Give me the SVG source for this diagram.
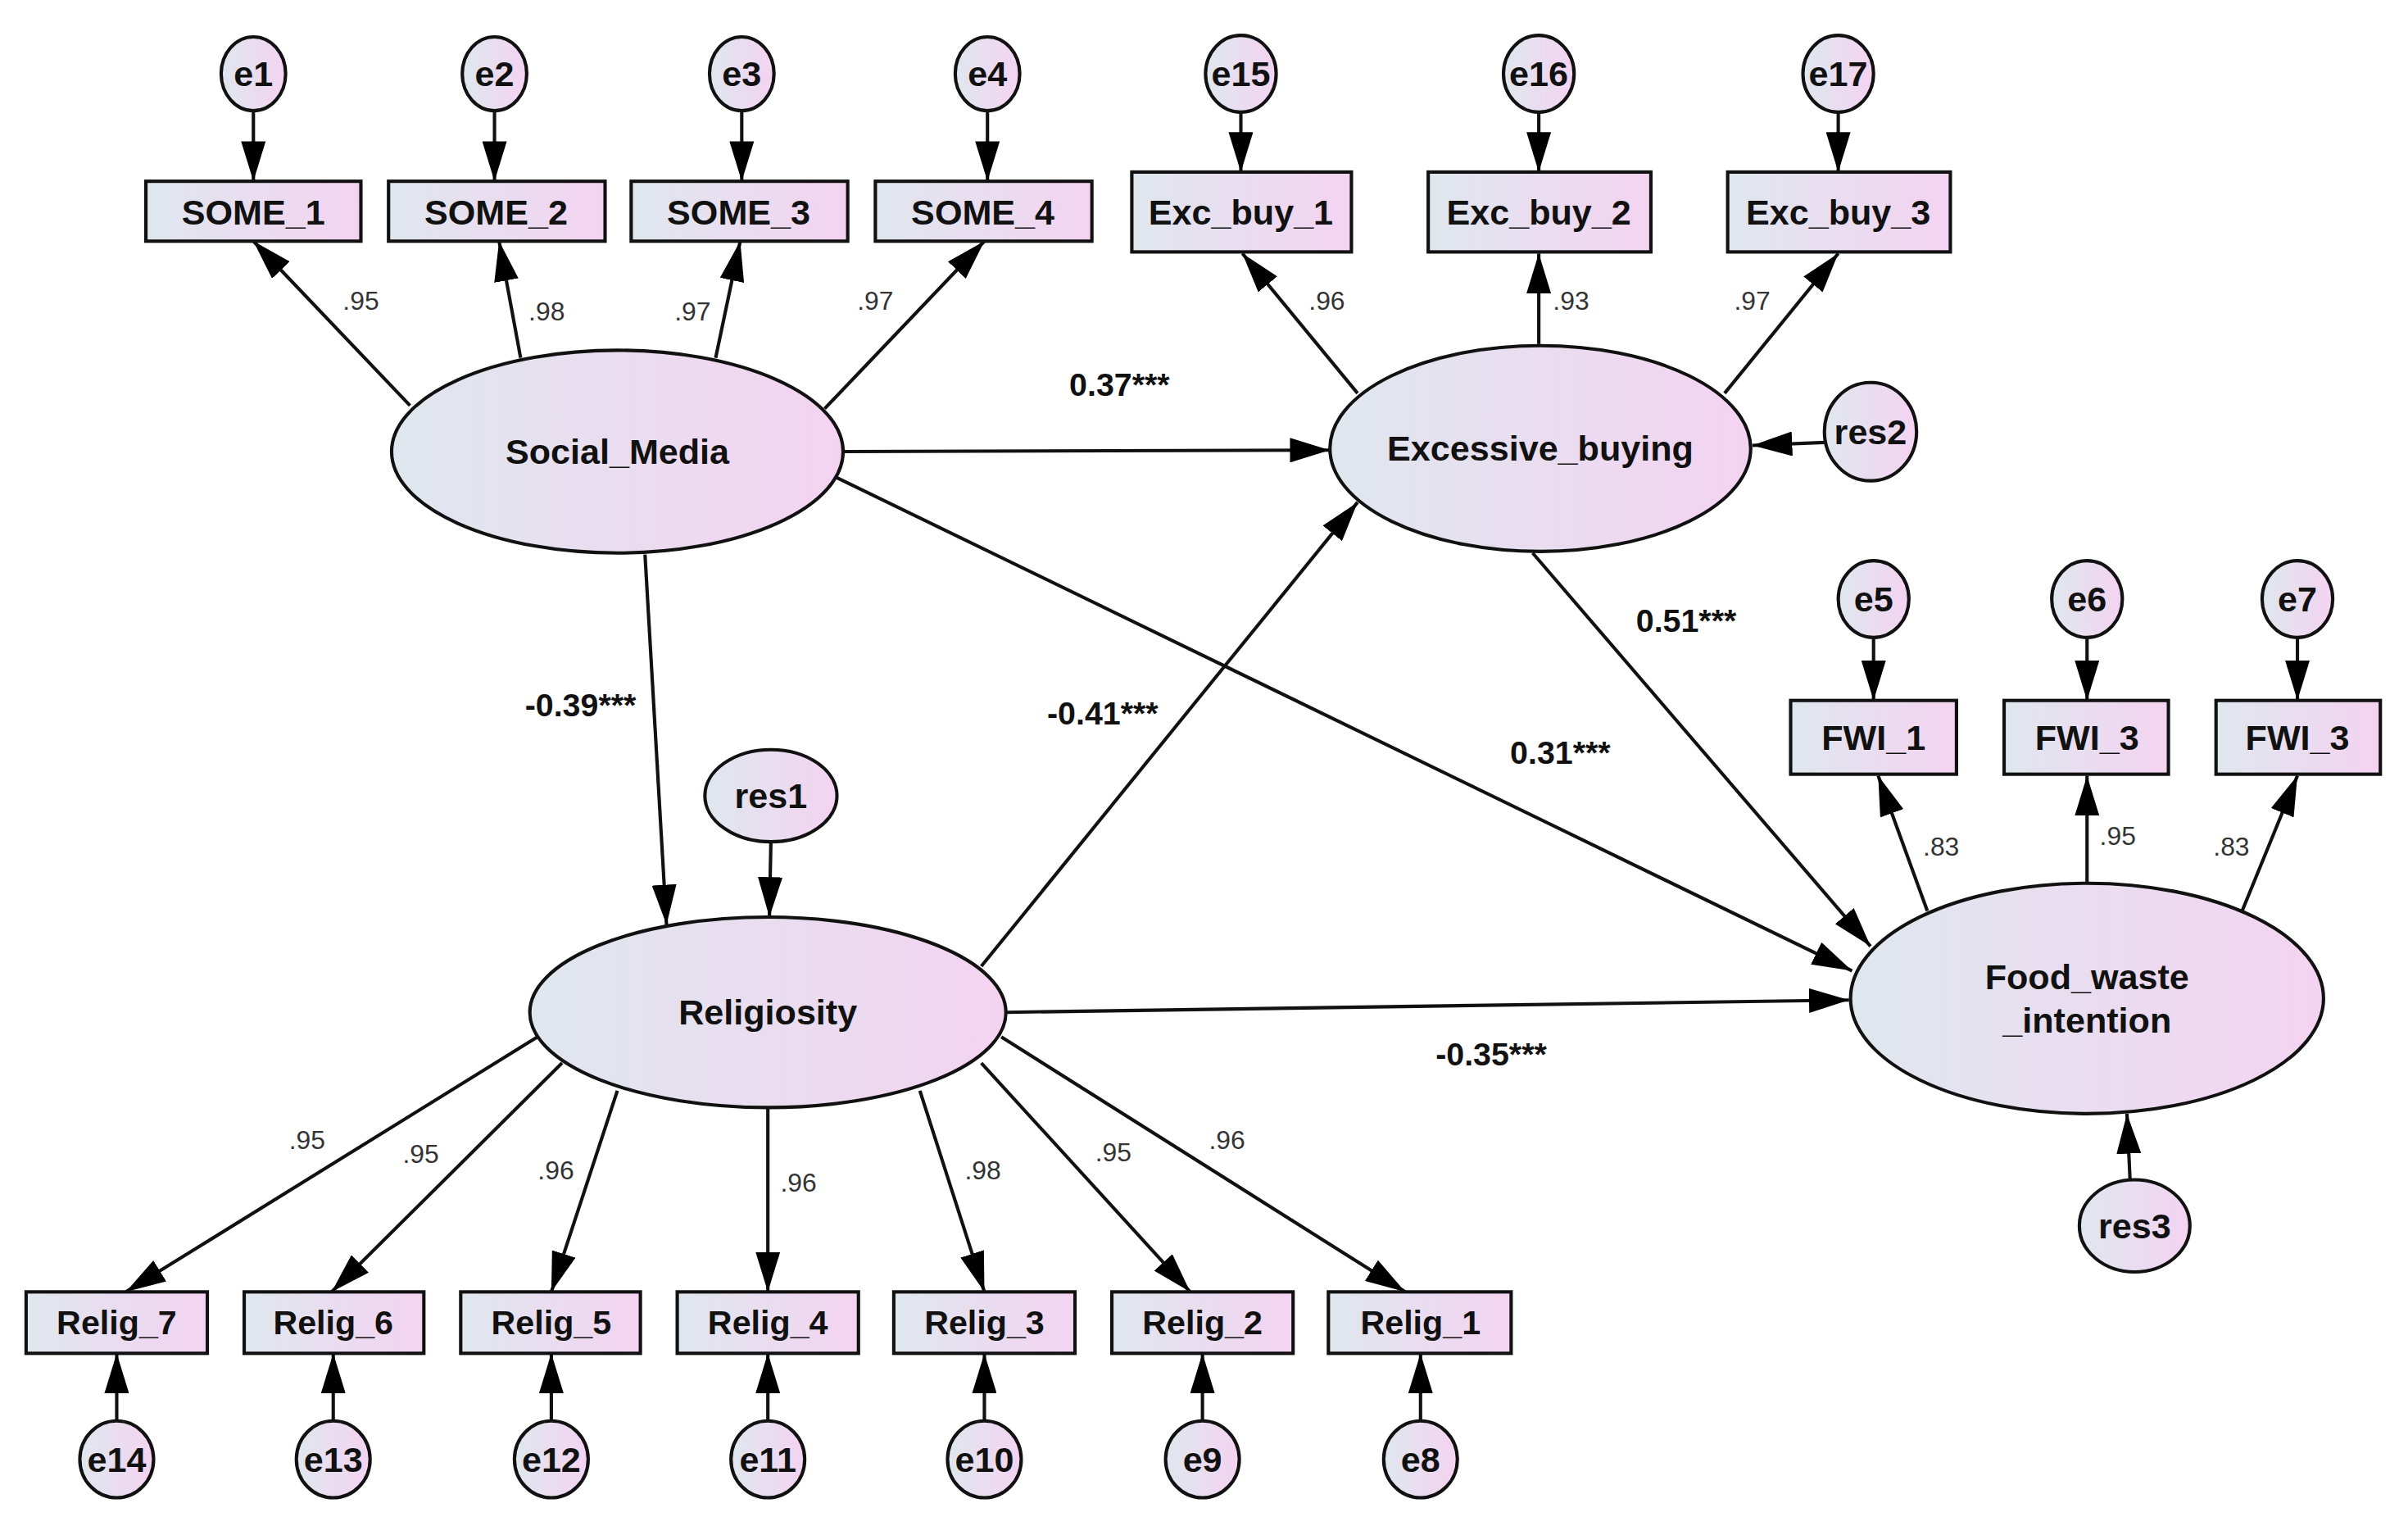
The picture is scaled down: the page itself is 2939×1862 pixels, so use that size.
<svg xmlns="http://www.w3.org/2000/svg" width="2939" height="1862" viewBox="0 0 2939 1862">
<defs>
<linearGradient id="g" x1="0" y1="0" x2="1" y2="0"><stop offset="0" stop-color="#dfe7ee"/><stop offset="1" stop-color="#f4d3f1"/></linearGradient>
<marker id="a" markerUnits="userSpaceOnUse" markerWidth="26" markerHeight="16" refX="26" refY="8" orient="auto"><path d="M0,0 L26,8 L0,16 z" fill="#000"/></marker>
<style>
.n{fill:url(#g);stroke:#111;stroke-width:2.2}
.t{font-family:"Liberation Sans",Arial,sans-serif;font-weight:bold;font-size:23px;fill:#111;text-anchor:middle;dominant-baseline:central}
.ts{font-family:"Liberation Sans",Arial,sans-serif;font-weight:bold;font-size:22px;fill:#111;text-anchor:middle;dominant-baseline:central}
.l{font-family:"Liberation Sans",Arial,sans-serif;font-size:17px;fill:#333;text-anchor:middle;dominant-baseline:central}
.p{font-family:"Liberation Sans",Arial,sans-serif;font-weight:bold;font-size:21px;fill:#111;text-anchor:middle;dominant-baseline:central}
.c line{stroke:#111;stroke-width:2.2;marker-end:url(#a)}
</style>
</defs>
<rect width="2939" height="1862" fill="#fff"/>
<g transform="scale(1.87436)">
<g class="c" id="connectors">
<line x1="165" y1="72" x2="165" y2="118"/><line x1="322" y1="72" x2="322" y2="118"/><line x1="483" y1="72" x2="483" y2="118"/><line x1="643" y1="72" x2="643" y2="118"/>
<line x1="267" y1="264" x2="165" y2="157"/><line x1="339" y1="233" x2="325" y2="157"/><line x1="466" y1="233" x2="482" y2="157"/><line x1="537" y1="266" x2="641" y2="157"/>
<line x1="808" y1="73" x2="808" y2="112"/><line x1="1002" y1="73" x2="1002" y2="112"/><line x1="1197" y1="73" x2="1197" y2="112"/>
<line x1="884" y1="256" x2="809" y2="165"/><line x1="1002" y1="224" x2="1002" y2="165"/><line x1="1123" y1="256" x2="1197" y2="165"/>
<line x1="1188" y1="288" x2="1141" y2="290"/>
<line x1="550" y1="294" x2="866" y2="293"/>
<line x1="639" y1="629" x2="884" y2="327"/>
<line x1="998" y1="360" x2="1218" y2="616"/>
<line x1="543" y1="310" x2="1206" y2="632"/>
<line x1="655" y1="659" x2="1204" y2="651"/>
<line x1="420" y1="361" x2="434" y2="602"/>
<line x1="502" y1="547" x2="501" y2="597"/>
<line x1="1220" y1="415" x2="1220" y2="456"/><line x1="1359" y1="415" x2="1359" y2="456"/><line x1="1496" y1="415" x2="1496" y2="456"/>
<line x1="1255" y1="593" x2="1223" y2="505"/><line x1="1359" y1="575" x2="1359" y2="505"/><line x1="1460" y1="593" x2="1496" y2="505"/>
<line x1="1387" y1="768" x2="1385" y2="725"/>
<line x1="350" y1="675" x2="82" y2="841"/><line x1="366" y1="692" x2="216" y2="841"/><line x1="402" y1="710" x2="359" y2="841"/><line x1="500" y1="721" x2="500" y2="841"/><line x1="599" y1="710" x2="641" y2="841"/><line x1="639" y1="692" x2="775" y2="841"/><line x1="652" y1="675" x2="915" y2="841"/>
<line x1="76" y1="925" x2="76" y2="881"/><line x1="217" y1="925" x2="217" y2="881"/><line x1="359" y1="925" x2="359" y2="881"/><line x1="500" y1="925" x2="500" y2="881"/><line x1="641" y1="925" x2="641" y2="881"/><line x1="783" y1="925" x2="783" y2="881"/><line x1="925" y1="925" x2="925" y2="881"/>
</g>
<g id="labels">
<text class="l" x="235" y="196">.95</text><text class="l" x="356" y="203">.98</text><text class="l" x="451" y="203">.97</text><text class="l" x="570" y="196">.97</text>
<text class="l" x="864" y="196">.96</text><text class="l" x="1023" y="196">.93</text><text class="l" x="1141" y="196">.97</text>
<text class="l" x="1264" y="551">.83</text><text class="l" x="1379" y="544">.95</text><text class="l" x="1453" y="551">.83</text>
<text class="l" x="200" y="742">.95</text><text class="l" x="274" y="751">.95</text><text class="l" x="362" y="762">.96</text><text class="l" x="520" y="770">.96</text><text class="l" x="640" y="762">.98</text><text class="l" x="725" y="750">.95</text><text class="l" x="799" y="742">.96</text>
<text class="p" x="729" y="250">0.37***</text><text class="p" x="378" y="459">-0.39***</text><text class="p" x="718" y="464">-0.41***</text><text class="p" x="1098" y="404">0.51***</text><text class="p" x="1016" y="490">0.31***</text><text class="p" x="971" y="686">-0.35***</text>
</g>
<g id="e1"><ellipse class="n" cx="165" cy="48" rx="21" ry="24"/><text class="t" x="165" y="48">e1</text></g>
<g id="e2"><ellipse class="n" cx="322" cy="48" rx="21" ry="24"/><text class="t" x="322" y="48">e2</text></g>
<g id="e3"><ellipse class="n" cx="483" cy="48" rx="21" ry="24"/><text class="t" x="483" y="48">e3</text></g>
<g id="e4"><ellipse class="n" cx="643" cy="48" rx="21" ry="24"/><text class="t" x="643" y="48">e4</text></g>
<g id="SOME_1"><rect class="n" x="95" y="118" width="140" height="39"/><text class="t" x="165" y="138">SOME_1</text></g>
<g id="SOME_2"><rect class="n" x="253" y="118" width="141" height="39"/><text class="t" x="323" y="138">SOME_2</text></g>
<g id="SOME_3"><rect class="n" x="411" y="118" width="141" height="39"/><text class="t" x="481" y="138">SOME_3</text></g>
<g id="SOME_4"><rect class="n" x="570" y="118" width="141" height="39"/><text class="t" x="640" y="138">SOME_4</text></g>
<g id="e15"><ellipse class="n" cx="808" cy="48" rx="23" ry="25"/><text class="t" x="808" y="48">e15</text></g>
<g id="e16"><ellipse class="n" cx="1002" cy="48" rx="23" ry="25"/><text class="t" x="1002" y="48">e16</text></g>
<g id="e17"><ellipse class="n" cx="1197" cy="48" rx="23" ry="25"/><text class="t" x="1197" y="48">e17</text></g>
<g id="Exc_buy_1"><rect class="n" x="737" y="112" width="143" height="52"/><text class="t" x="808" y="138">Exc_buy_1</text></g>
<g id="Exc_buy_2"><rect class="n" x="930" y="112" width="145" height="52"/><text class="t" x="1002" y="138">Exc_buy_2</text></g>
<g id="Exc_buy_3"><rect class="n" x="1125" y="112" width="145" height="52"/><text class="t" x="1197" y="138">Exc_buy_3</text></g>
<g id="Social_Media"><ellipse class="n" cx="402" cy="294" rx="147" ry="66"/><text class="t" x="402" y="294">Social_Media</text></g>
<g id="Excessive_buying"><ellipse class="n" cx="1003" cy="292" rx="137" ry="67"/><text class="t" x="1003" y="292">Excessive_buying</text></g>
<g id="res2"><ellipse class="n" cx="1218" cy="281" rx="30" ry="32"/><text class="t" x="1218" y="281">res2</text></g>
<g id="res1"><ellipse class="n" cx="502" cy="518" rx="43" ry="30"/><text class="t" x="502" y="518">res1</text></g>
<g id="Religiosity"><ellipse class="n" cx="500" cy="659" rx="155" ry="62"/><text class="t" x="500" y="659">Religiosity</text></g>
<g id="e5"><ellipse class="n" cx="1220" cy="390" rx="23" ry="25"/><text class="t" x="1220" y="390">e5</text></g>
<g id="e6"><ellipse class="n" cx="1359" cy="390" rx="23" ry="25"/><text class="t" x="1359" y="390">e6</text></g>
<g id="e7"><ellipse class="n" cx="1496" cy="390" rx="23" ry="25"/><text class="t" x="1496" y="390">e7</text></g>
<g id="FWI_1"><rect class="n" x="1166" y="456" width="108" height="48"/><text class="t" x="1220" y="480">FWI_1</text></g>
<g id="FWI_2"><rect class="n" x="1305" y="456" width="107" height="48"/><text class="t" x="1359" y="480">FWI_3</text></g>
<g id="FWI_3"><rect class="n" x="1443" y="456" width="107" height="48"/><text class="t" x="1496" y="480">FWI_3</text></g>
<g id="Food_waste_intention"><ellipse class="n" cx="1359" cy="650" rx="154" ry="75"/><text class="t" x="1359" y="636">Food_waste</text><text class="t" x="1359" y="664">_intention</text></g>
<g id="res3"><ellipse class="n" cx="1390" cy="798" rx="36" ry="30"/><text class="t" x="1390" y="798">res3</text></g>
<g id="Relig_7"><rect class="n" x="17" y="841" width="118" height="40"/><text class="ts" x="76" y="861">Relig_7</text></g>
<g id="Relig_6"><rect class="n" x="159" y="841" width="117" height="40"/><text class="ts" x="217" y="861">Relig_6</text></g>
<g id="Relig_5"><rect class="n" x="300" y="841" width="117" height="40"/><text class="ts" x="359" y="861">Relig_5</text></g>
<g id="Relig_4"><rect class="n" x="441" y="841" width="118" height="40"/><text class="ts" x="500" y="861">Relig_4</text></g>
<g id="Relig_3"><rect class="n" x="582" y="841" width="118" height="40"/><text class="ts" x="641" y="861">Relig_3</text></g>
<g id="Relig_2"><rect class="n" x="724" y="841" width="118" height="40"/><text class="ts" x="783" y="861">Relig_2</text></g>
<g id="Relig_1"><rect class="n" x="865" y="841" width="119" height="40"/><text class="ts" x="925" y="861">Relig_1</text></g>
<g id="e14"><ellipse class="n" cx="76" cy="950" rx="24" ry="25"/><text class="t" x="76" y="950">e14</text></g>
<g id="e13"><ellipse class="n" cx="217" cy="950" rx="24" ry="25"/><text class="t" x="217" y="950">e13</text></g>
<g id="e12"><ellipse class="n" cx="359" cy="950" rx="24" ry="25"/><text class="t" x="359" y="950">e12</text></g>
<g id="e11"><ellipse class="n" cx="500" cy="950" rx="24" ry="25"/><text class="t" x="500" y="950">e11</text></g>
<g id="e10"><ellipse class="n" cx="641" cy="950" rx="24" ry="25"/><text class="t" x="641" y="950">e10</text></g>
<g id="e9"><ellipse class="n" cx="783" cy="950" rx="24" ry="25"/><text class="t" x="783" y="950">e9</text></g>
<g id="e8"><ellipse class="n" cx="925" cy="950" rx="24" ry="25"/><text class="t" x="925" y="950">e8</text></g>
</g>
</svg>
